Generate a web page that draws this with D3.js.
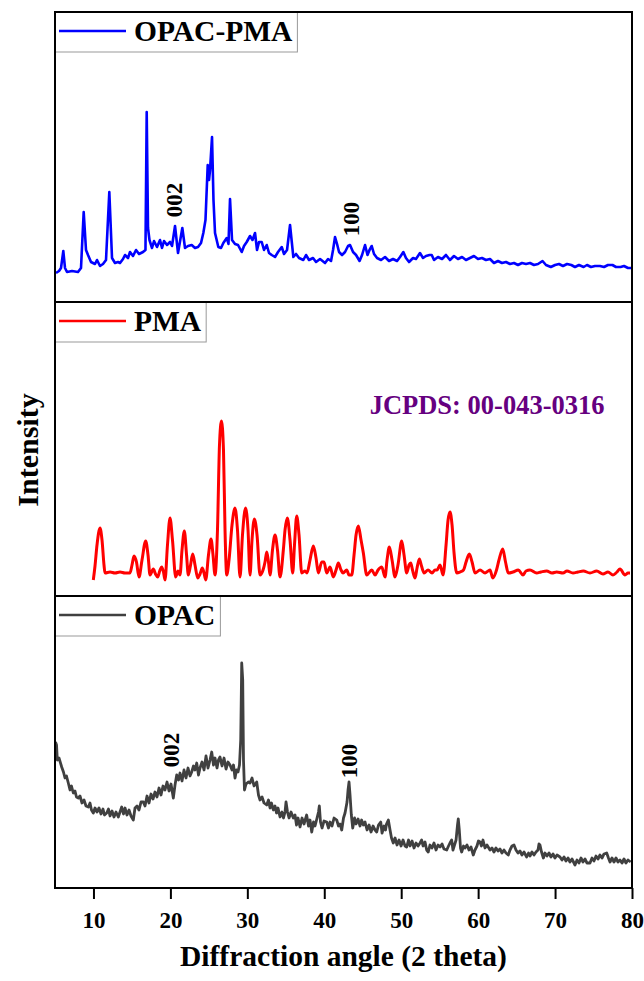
<!DOCTYPE html>
<html>
<head>
<meta charset="utf-8">
<script src="https://cdn.jsdelivr.net/npm/d3@7"></script>
<style>
  body { margin: 0; background: #fff; }
  svg { display: block; font-family: "Liberation Serif", "Times New Roman", serif; font-weight: bold; }
</style>
</head>
<body>
<div id="chart"></div>
<script>
// ---- data (2 theta in degrees, intensity in a.u.) ----
const xTicks = [10, 20, 30, 40, 50, 60, 70, 80];
const seriesNames = ['OPAC-PMA', 'PMA', 'OPAC'];
const seriesColors = ['#0000ff', '#ff0000', '#404040'];
const intensityMax = [290, 294, 292];

const opacPmaPattern = [
  [5.13,29],[5.52,31],[5.78,34],[6.08,51],[6.30,34],[6.56,30],[7.21,31],[7.99,30],[8.38,34],[8.73,90],
  [9.03,52],[9.29,47],[9.68,40],[10.20,38],[10.46,42],[10.85,36],[11.24,38],[11.63,42],[12.06,110],[12.41,44],
  [12.80,39],[13.19,40],[13.45,39],[13.84,43],[14.10,47],[14.49,44],[14.75,50],[15.14,46],[15.53,52],[15.92,48],
  [16.44,50],[16.76,52],[16.92,190],[17.09,74],[17.28,62],[17.61,54],[17.87,61],[18.26,55],[18.65,62],[18.91,54],
  [19.17,61],[19.56,57],[19.95,60],[20.21,56],[20.60,76],[20.99,49],[21.55,74],[21.90,54],[22.29,56],[22.77,57],
  [23.20,54],[23.59,55],[23.98,59],[24.28,69],[24.56,82],[24.85,137],[25.02,122],[25.15,132],[25.41,165],[25.60,102],
  [25.80,69],[26.23,55],[26.58,54],[26.88,59],[27.32,64],[27.55,58],[27.75,103],[28.01,62],[28.40,58],[28.79,57],
  [29.27,50],[29.57,56],[29.92,60],[30.35,66],[30.67,62],[31.00,69],[31.26,52],[31.52,60],[31.87,60],[32.17,52],
  [32.52,57],[32.82,49],[33.17,47],[33.60,45],[33.99,50],[34.47,55],[34.77,48],[35.16,52],[35.55,77],[35.98,45],
  [36.33,48],[36.72,44],[37.28,42],[37.63,47],[38.02,42],[38.54,44],[38.93,40],[39.45,43],[40.10,39],[40.49,43],
  [40.88,41],[41.14,52],[41.40,65],[41.66,58],[41.92,50],[42.31,47],[42.70,50],[43.09,56],[43.35,57],[43.74,50],
  [44.13,47],[44.59,41],[44.91,47],[45.30,57],[45.62,47],[45.88,52],[46.17,56],[46.47,48],[46.86,44],[47.38,42],
  [47.90,45],[48.42,41],[48.94,43],[49.46,41],[49.85,45],[50.28,50],[50.62,44],[51.02,40],[51.54,44],[51.92,43],
  [52.44,49],[52.84,44],[53.22,46],[53.68,47],[53.97,47],[54.27,42],[54.78,45],[55.31,43],[55.82,47],[56.34,42],
  [56.86,46],[57.38,43],[57.91,45],[58.42,42],[58.94,44],[59.46,46],[59.98,43],[60.50,44],[61.02,42],[61.54,43],
  [62.06,39],[62.58,41],[63.10,39],[63.62,40],[64.14,38],[64.66,39],[65.18,37],[65.70,39],[66.22,38],[66.74,39],
  [67.26,37],[67.78,38],[68.37,41],[68.82,37],[69.45,35],[70.00,37],[70.51,38],[71.03,36],[71.56,38],[72.11,37],
  [72.59,35],[73.11,37],[73.71,35],[74.15,37],[74.67,35],[75.19,36],[75.84,36],[76.36,35],[76.88,37],[77.46,37],
  [77.92,35],[78.52,35],[78.96,36],[79.48,34],[79.87,34]
];

const pmaPattern = [
  [9.98,16],[10.20,30],[10.46,51],[10.85,68],[11.11,56],[11.37,31],[11.50,23],[12.15,24],[12.80,23],[13.45,24],
  [14.10,23],[14.75,23],[15.01,31],[15.27,40],[15.59,34],[15.92,19],[16.31,36],[16.79,55],[17.09,41],[17.35,21],
  [17.78,27],[18.06,22],[18.35,19],[18.65,26],[18.87,29],[19.10,24],[19.30,16],[19.62,51],[19.95,78],[20.27,56],
  [20.69,19],[20.99,25],[21.25,21],[21.51,46],[21.81,65],[22.10,41],[22.33,21],[22.62,31],[22.90,42],[23.20,31],
  [23.55,18],[23.85,22],[24.15,28],[24.37,23],[24.59,16],[24.95,41],[25.28,57],[25.54,41],[25.80,21],[26.12,66],
  [26.38,151],[26.64,175],[26.90,146],[27.10,66],[27.32,21],[27.62,36],[28.01,71],[28.40,88],[28.72,66],[29.05,19],
  [29.37,61],[29.76,88],[30.09,66],[30.35,21],[30.61,56],[30.91,77],[31.26,61],[31.65,21],[32.04,26],[32.30,34],
  [32.52,44],[32.75,34],[32.95,21],[33.27,46],[33.60,61],[33.92,46],[34.25,19],[34.68,46],[34.90,66],[35.20,78],
  [35.55,56],[35.90,23],[36.13,51],[36.42,80],[36.72,61],[37.07,23],[37.50,25],[37.76,23],[38.15,36],[38.58,50],
  [38.93,38],[39.23,23],[39.67,34],[39.97,34],[40.32,23],[40.75,29],[41.18,19],[41.53,26],[41.83,33],[42.18,26],
  [42.44,23],[42.92,26],[43.22,21],[43.57,21],[43.87,41],[44.13,61],[44.43,70],[44.78,56],[45.08,43],[45.52,21],
  [46.17,26],[46.60,21],[46.99,26],[47.47,29],[47.90,19],[48.16,36],[48.46,49],[48.81,36],[49.20,19],[49.58,31],
  [50.07,55],[50.37,41],[50.72,23],[51.02,31],[51.24,33],[51.47,26],[51.80,18],[52.06,28],[52.36,37],[52.64,30],
  [52.97,23],[53.49,26],[54.01,23],[54.40,26],[54.66,26],[55.05,31],[55.44,21],[55.83,51],[56.09,76],[56.35,84],
  [56.61,71],[56.87,43],[57.22,23],[57.65,24],[58.10,26],[58.43,34],[58.86,42],[59.21,34],[59.60,23],[60.25,26],
  [60.90,23],[61.29,25],[61.55,26],[61.90,18],[62.39,26],[62.71,36],[63.20,47],[63.56,34],[63.92,23],[64.53,24],
  [65.22,26],[65.83,21],[66.22,25],[66.74,26],[67.61,23],[68.17,24],[68.91,25],[69.60,23],[70.21,24],[71.03,23],
  [71.55,25],[72.33,23],[72.98,24],[73.67,25],[74.54,23],[75.41,25],[76.23,22],[76.88,24],[77.53,21],[78.05,24],
  [78.44,27],[79.09,21],[79.48,23],[79.74,23]
];

const opacPattern = [
  [5.06,146],[5.20,143],[5.30,128],[5.52,130],[5.87,121],[6.10,116],[6.30,110],[6.49,112],[6.73,105],[6.95,98],
  [7.14,102],[7.38,95],[7.60,97],[7.79,91],[8.03,90],[8.25,92],[8.51,85],[8.77,88],[9.03,82],[9.33,81],
  [9.55,85],[9.74,78],[9.98,75],[10.20,80],[10.46,76],[10.72,80],[10.98,74],[11.24,79],[11.43,73],[11.72,75],
  [11.95,79],[12.15,72],[12.41,77],[12.67,71],[12.93,76],[13.23,71],[13.45,76],[13.67,81],[13.90,74],[14.10,80],
  [14.36,73],[14.62,78],[14.88,72],[15.18,68],[15.40,80],[15.66,82],[15.92,78],[16.18,86],[16.48,86],[16.70,82],
  [16.96,92],[17.22,85],[17.48,94],[17.74,89],[18.00,96],[18.26,91],[18.52,100],[18.78,93],[19.04,102],[19.30,98],
  [19.56,106],[19.82,97],[20.08,104],[20.38,90],[20.60,103],[20.82,113],[21.06,108],[21.25,115],[21.51,107],[21.77,118],
  [22.03,110],[22.29,120],[22.55,112],[22.77,116],[23.00,122],[23.20,118],[23.42,125],[23.65,113],[23.85,120],[24.11,126],
  [24.37,118],[24.63,132],[24.89,120],[25.15,128],[25.37,136],[25.60,123],[25.80,130],[26.06,120],[26.25,128],[26.45,131],
  [26.71,122],[26.97,130],[27.23,119],[27.49,126],[27.75,123],[28.01,118],[28.20,123],[28.40,110],[28.59,118],[28.79,116],
  [28.98,123],[29.14,148],[29.27,225],[29.40,208],[29.50,128],[29.63,98],[29.83,104],[30.13,106],[30.35,105],[30.61,110],
  [30.87,102],[31.22,106],[31.45,93],[31.65,88],[31.91,91],[32.17,85],[32.52,83],[32.75,88],[32.95,80],[33.14,85],
  [33.38,78],[33.60,82],[33.79,75],[33.99,80],[34.25,71],[34.51,76],[34.70,70],[34.90,76],[35.03,86],[35.22,76],
  [35.42,70],[35.68,76],[35.98,70],[36.20,73],[36.39,63],[36.59,70],[36.85,61],[37.11,70],[37.37,64],[37.71,73],
  [37.95,62],[38.15,68],[38.37,56],[38.60,66],[38.80,62],[39.06,70],[39.25,76],[39.36,82],[39.51,66],[39.71,60],
  [39.97,67],[40.32,66],[40.55,60],[40.75,66],[41.01,62],[41.27,70],[41.62,68],[41.85,62],[42.05,64],[42.27,58],
  [42.50,70],[42.70,75],[42.96,86],[43.09,98],[43.22,106],[43.35,93],[43.52,73],[43.70,60],[43.94,70],[44.13,64],
  [44.39,69],[44.65,62],[44.85,68],[45.08,63],[45.30,66],[45.56,58],[45.82,63],[46.08,56],[46.34,62],[46.60,58],
  [46.82,56],[47.05,63],[47.34,66],[47.51,55],[47.77,62],[47.96,58],[48.09,64],[48.33,68],[48.55,58],[48.74,50],
  [48.97,45],[49.20,50],[49.46,43],[49.72,48],[49.98,42],[50.24,48],[50.50,42],[50.71,41],[50.95,48],[51.15,42],
  [51.41,47],[51.67,40],[51.93,45],[52.19,42],[52.45,45],[52.66,48],[52.84,42],[53.10,46],[53.31,38],[53.52,36],
  [53.74,43],[54.00,40],[54.26,45],[54.53,38],[54.79,43],[55.05,41],[55.31,44],[55.56,39],[55.92,38],[56.15,42],
  [56.34,45],[56.56,48],[56.73,38],[56.93,43],[57.13,48],[57.32,63],[57.42,69],[57.55,58],[57.71,40],[57.86,36],
  [58.10,42],[58.29,40],[58.55,43],[58.81,38],[59.07,41],[59.37,33],[59.59,38],[59.85,42],[60.04,47],[60.24,46],
  [60.43,42],[60.63,48],[60.89,40],[61.15,43],[61.54,38],[61.80,40],[62.06,36],[62.32,40],[62.58,37],[62.84,39],
  [63.10,35],[63.36,38],[63.62,35],[63.92,33],[64.14,38],[64.40,42],[64.66,43],[64.92,38],[65.18,35],[65.44,37],
  [65.70,33],[65.96,36],[66.31,31],[66.55,35],[66.74,32],[67.00,36],[67.26,33],[67.52,36],[67.78,38],[67.91,44],
  [68.04,43],[68.24,36],[68.48,30],[68.69,35],[68.95,32],[69.21,35],[69.47,31],[69.73,34],[69.99,30],[70.25,33],
  [70.64,31],[70.90,28],[71.16,31],[71.42,27],[71.68,30],[71.94,26],[72.20,29],[72.59,23],[72.85,28],[73.11,25],
  [73.37,30],[73.63,26],[73.89,29],[74.15,25],[74.54,25],[74.80,30],[75.06,27],[75.32,32],[75.58,29],[75.84,33],
  [76.10,30],[76.36,34],[76.71,35],[76.94,30],[77.14,26],[77.40,30],[77.66,26],[77.92,30],[78.18,26],[78.44,28],
  [78.70,25],[78.96,29],[79.22,25],[79.48,28],[79.83,26]
];

const peakLabels = [
  {panel: 0, text: '002', theta: 20.47, intensity: 102},
  {panel: 0, text: '100', theta: 43.54, intensity: 83},
  {panel: 2, text: '002', theta: 20.14, intensity: 138},
  {panel: 2, text: '100', theta: 43.34, intensity: 127}
];
const cardNote = {panel: 1, text: 'JCPDS: 00-043-0316', theta: 45.9, intensity: 182};

class StackedXrdChart {

  constructor(_config, _series) {
    this.config = {
      parentElement: _config.parentElement,
      containerWidth: _config.containerWidth,
      containerHeight: _config.containerHeight,
      margin: {top: 12, right: 12, bottom: 93, left: 55},
      panelHeights: [290, 294, 292]
    }
    this.series = _series;
    this.initVis();
  }

  initVis() {
    let vis = this;

    vis.width = vis.config.containerWidth - vis.config.margin.left - vis.config.margin.right;
    vis.height = d3.sum(vis.config.panelHeights);

    vis.svg = d3.select(vis.config.parentElement)
      .append('svg')
      .attr('width', vis.config.containerWidth)
      .attr('height', vis.config.containerHeight);

    vis.chartArea = vis.svg.append('g')
      .attr('transform', `translate(${vis.config.margin.left},${vis.config.margin.top})`);

    vis.xScale = d3.scaleLinear()
      .domain([5, 80])
      .range([0, vis.width]);

    // panel tops stacked from the top down
    vis.panelTops = [];
    let acc = 0;
    vis.config.panelHeights.forEach(h => { vis.panelTops.push(acc); acc += h; });

    vis.renderVis();
  }

  renderVis() {
    let vis = this;

    vis.series.forEach((s, i) => {
      const top = vis.panelTops[i];
      const h = vis.config.panelHeights[i];
      const yScale = d3.scaleLinear()
        .domain([0, s.yMax])
        .range([top + h, top]);
      s.yScale = yScale;

      const line = d3.line()
        .curve(s.smooth ? d3.curveMonotoneX : d3.curveLinear)
        .x(d => vis.xScale(d[0]))
        .y(d => yScale(d[1]));

      vis.chartArea.append('path')
        .datum(s.values)
        .attr('fill', 'none')
        .attr('stroke', s.color)
        .attr('stroke-width', s.lineWidth)
        .attr('stroke-linejoin', 'round')
        .attr('d', line);

      // legend box in the top left corner of each panel
      const legend = vis.chartArea.append('g')
        .attr('transform', `translate(0,${top})`);

      const legendBox = legend.append('rect')
        .attr('height', 40)
        .attr('fill', '#fff')
        .attr('stroke', '#999')
        .attr('stroke-width', 1);

      legend.append('line')
        .attr('x1', 4)
        .attr('x2', 71)
        .attr('y1', 19)
        .attr('y2', 19)
        .attr('stroke', s.color)
        .attr('stroke-width', 2.5);

      const label = legend.append('text')
        .attr('x', 79)
        .attr('y', 29)
        .attr('font-size', 29.5)
        .attr('fill', '#000')
        .text(s.name);

      legendBox.attr('width', 79 + label.node().getComputedTextLength() + 5);
    });

    // peak indices
    peakLabels.forEach(p => {
      const ys = vis.series[p.panel].yScale;
      vis.chartArea.append('text')
        .attr('transform', `translate(${vis.xScale(p.theta)},${ys(p.intensity)}) rotate(-90)`)
        .attr('text-anchor', 'middle')
        .attr('dominant-baseline', 'central')
        .attr('font-size', 23)
        .attr('fill', '#000')
        .text(p.text);
    });

    vis.chartArea.append('text')
      .attr('x', vis.xScale(cardNote.theta))
      .attr('y', vis.series[cardNote.panel].yScale(cardNote.intensity))
      .attr('font-size', 26.5)
      .attr('fill', '#660080')
      .text(cardNote.text);

    // panel frames
    vis.config.panelHeights.forEach((h, i) => {
      vis.chartArea.append('rect')
        .attr('x', 0)
        .attr('y', vis.panelTops[i])
        .attr('width', vis.width)
        .attr('height', h)
        .attr('fill', 'none')
        .attr('stroke', '#000')
        .attr('stroke-width', 2);
    });

    // bottom axis
    const xAxis = d3.axisBottom(vis.xScale)
      .tickValues(xTicks)
      .tickSize(11)
      .tickPadding(13)
      .tickFormat(d3.format('d'));

    const axisG = vis.chartArea.append('g')
      .attr('transform', `translate(0,${vis.height})`)
      .call(xAxis);

    axisG.select('.domain').remove();
    axisG.selectAll('.tick line')
      .attr('stroke', '#000')
      .attr('stroke-width', 2);
    axisG.selectAll('.tick text')
      .attr('fill', '#000')
      .attr('font-family', '"Liberation Serif", "Times New Roman", serif')
      .attr('font-weight', 'bold')
      .attr('font-size', 23);

    // axis titles
    vis.chartArea.append('text')
      .attr('x', vis.width / 2)
      .attr('y', vis.height + 78)
      .attr('text-anchor', 'middle')
      .attr('font-size', 29.5)
      .attr('fill', '#000')
      .text('Diffraction angle (2 theta)');

    vis.chartArea.append('text')
      .attr('transform', `translate(-28,${vis.height / 2}) rotate(-90)`)
      .attr('text-anchor', 'middle')
      .attr('dominant-baseline', 'central')
      .attr('font-size', 30)
      .attr('fill', '#000')
      .text('Intensity');
  }
}

const series = [
  {name: seriesNames[0], color: seriesColors[0], yMax: intensityMax[0], values: opacPmaPattern, lineWidth: 2.6, smooth: false},
  {name: seriesNames[1], color: seriesColors[1], yMax: intensityMax[1], values: pmaPattern, lineWidth: 3, smooth: true},
  {name: seriesNames[2], color: seriesColors[2], yMax: intensityMax[2], values: opacPattern, lineWidth: 2.8, smooth: false}
];

new StackedXrdChart({
  parentElement: '#chart',
  containerWidth: 644,
  containerHeight: 981
}, series);
</script>
</body>
</html>
